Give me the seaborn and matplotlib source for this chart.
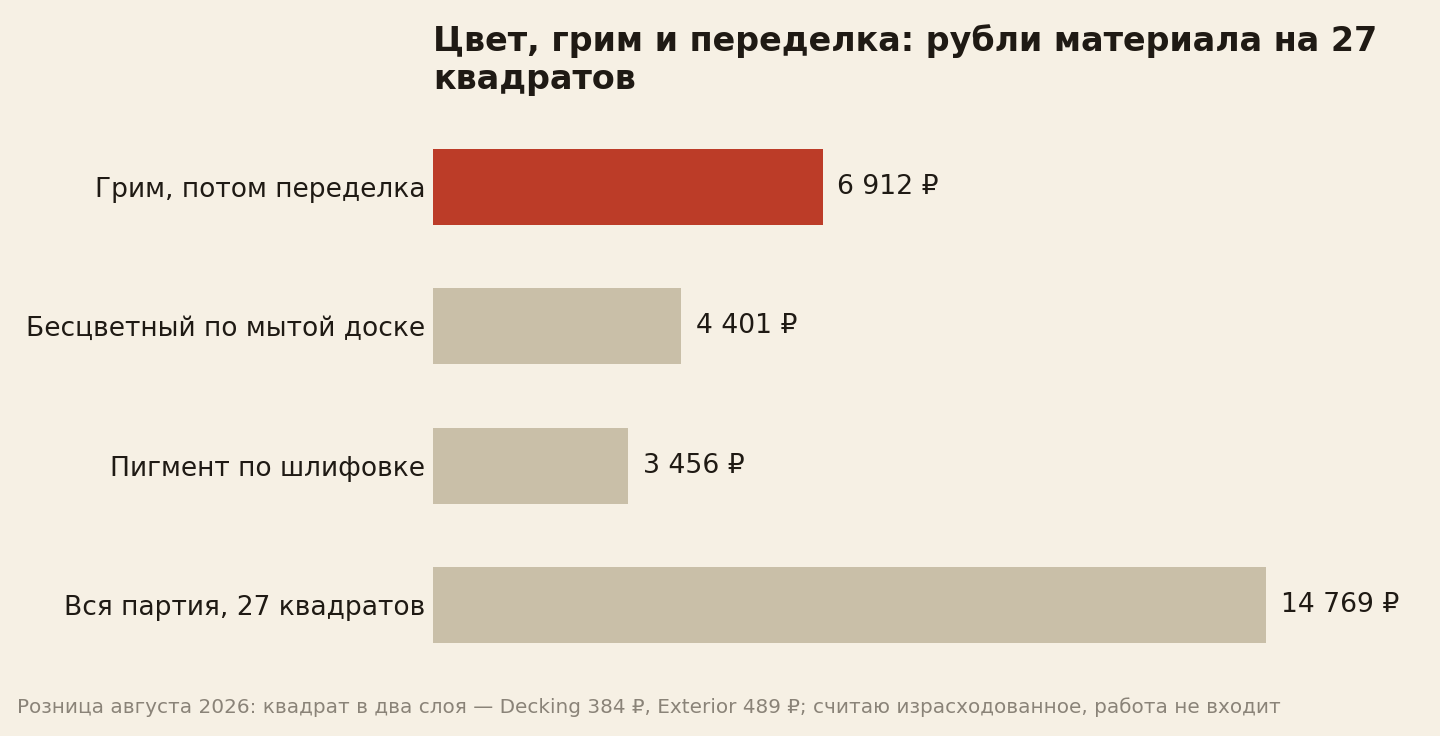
import numpy as np
import pandas as pd
import matplotlib
matplotlib.use("Agg")
import matplotlib.pyplot as plt
import seaborn as sns

# data
categories = ["Грим, потом переделка", "Бесцветный по мытой доске",
              "Пигмент по шлифовке", "Вся партия, 27 квадратов"]
values = [6912, 4401, 3456, 14769]
highlight = "Грим, потом переделка"

title = "Цвет, грим и переделка: рубли материала на 27\nквадратов"
footer = ("Розница августа 2026: квадрат в два слоя — Decking 384 ₽, "
          "Exterior 489 ₽; считаю израсходованное, работа не входит")

BG = "#F6F0E4"
RED = "#BC3C28"
BEIGE = "#C9BFA8"
INK = "#1F1A14"
GREY = "#8A8378"

sns.set_theme(style="white")
plt.rcParams['font.family'] = ['DejaVu Sans']

df = pd.DataFrame({"cat": categories, "val": values})
palette = {c: (RED if c == highlight else BEIGE) for c in categories}

fig = plt.figure(figsize=(14.4, 7.36), dpi=100, facecolor=BG)
ax = fig.add_axes([433 / 1440, 1 - 675 / 736, (1400 - 433) / 1440, (675 - 117) / 736])
ax.set_facecolor(BG)

sns.barplot(data=df, x="val", y="cat", hue="cat", palette=palette,
            order=categories, width=0.545, legend=False, ax=ax, saturation=1,
            linewidth=0)

ax.set_xlim(0, max(values) * (1400 - 433) / (1266 - 433))
ax.set_ylim(3.5, -0.5)
ax.set_xlabel("")
ax.set_ylabel("")
ax.set_xticks([])
for s in ax.spines.values():
    s.set_visible(False)
ax.tick_params(axis="y", length=0, pad=5.5, labelsize=19.1, labelcolor=INK)

for i, v in enumerate(values):
    lab = f"{v:,}".replace(",", " ") + " ₽"
    ax.annotate(lab, (v, i), xytext=(10.5, 0), textcoords="offset points",
                va="center", ha="left", fontsize=19.2, color=INK)

fig.text(433 / 1440, 1 - 24 / 736, title, ha="left", va="top",
         fontsize=24, fontweight="bold", color=INK, linespacing=1.18)
fig.text(17 / 1440, 1 - 707 / 736, footer, ha="left", va="center",
         fontsize=14.4, color=GREY)

fig.savefig("out.png", dpi=100, facecolor=BG)
